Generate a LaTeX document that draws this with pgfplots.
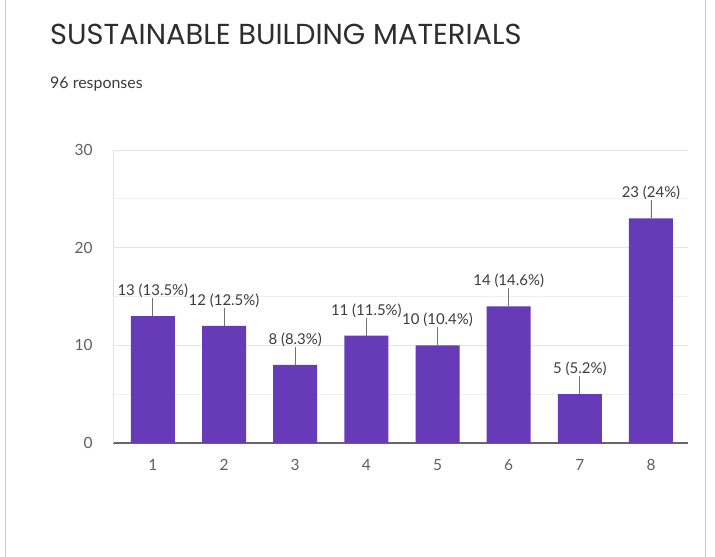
\documentclass[border=0pt]{standalone}
\usepackage{fontspec}
\setmainfont{Lato}
\newfontfamily\titlefont{Poppins}
\usepackage{pgfplots}
\pgfplotsset{compat=1.18}
\definecolor{barpurple}{HTML}{673AB7}
\definecolor{txt}{HTML}{3C3C3C}
\definecolor{ticktxt}{HTML}{5F5F5F}
\begin{document}
\begin{tikzpicture}
\path[use as bounding box] (0bp,0bp) rectangle (715bp,-557bp);
\fill[white] (0bp,0bp) rectangle (715bp,-557bp);
\draw[black!20, line width=1bp] (5bp,0bp) -- (5bp,-557bp);
\draw[black!20, line width=1bp] (705bp,0bp) -- (705bp,-557bp);
\node[anchor=base west, inner sep=0pt, font=\titlefont\fontsize{29}{32}\selectfont, text=black!82] at (50bp,-44bp) {SUSTAINABLE BUILDING MATERIALS};
\node[anchor=base west, inner sep=0pt, font=\fontsize{16}{18}\selectfont, text=txt] at (50bp,-88bp) {96 responses};
\begin{axis}[
  at={(113bp,-443bp)}, anchor=south west,
  scale only axis, width=575bp, height=293bp,
  xmin=0.44, xmax=8.52, ymin=0, ymax=30,
  axis lines=left, axis line style={-},
  x axis line style={draw=black!60, line width=1.6bp},
  y axis line style={draw=black!12, line width=0.8bp},
  xtick={1,...,8}, ytick={0,10,20,30}, minor ytick={5,15,25},
  major tick length=0pt, minor tick length=0pt,
  ymajorgrids, yminorgrids,
  major grid style={draw=black!10, line width=0.8bp},
  minor grid style={draw=black!6, line width=0.8bp},
  /pgf/number format/assume math mode=true,
  ticklabel style={font=\fontsize{15.5}{17}\selectfont, text=ticktxt},
  yticklabel style={xshift=-17bp},
  xticklabel style={yshift=-13bp},
  clip=false,
  ybar, bar width=44bp,
  point meta=explicit symbolic,
  nodes near coords,
  every node near coord/.append style={anchor=south, yshift=17bp, inner sep=1bp, font=\fontsize{15}{17}\selectfont, text=txt},
]
\addplot[fill=barpurple, draw=none,
  error bars/.cd, y dir=plus, y fixed=1.85, error mark=none,
  error bar style={draw=black!55, line width=0.9bp}]
coordinates {
(1,13) [13 (13.5\%)]
(2,12) [12 (12.5\%)]
(3,8) [8 (8.3\%)]
(4,11) [11 (11.5\%)]
(5,10) [10 (10.4\%)]
(6,14) [14 (14.6\%)]
(7,5) [5 (5.2\%)]
(8,23) [23 (24\%)]
};
\end{axis}
\end{tikzpicture}
\end{document}
